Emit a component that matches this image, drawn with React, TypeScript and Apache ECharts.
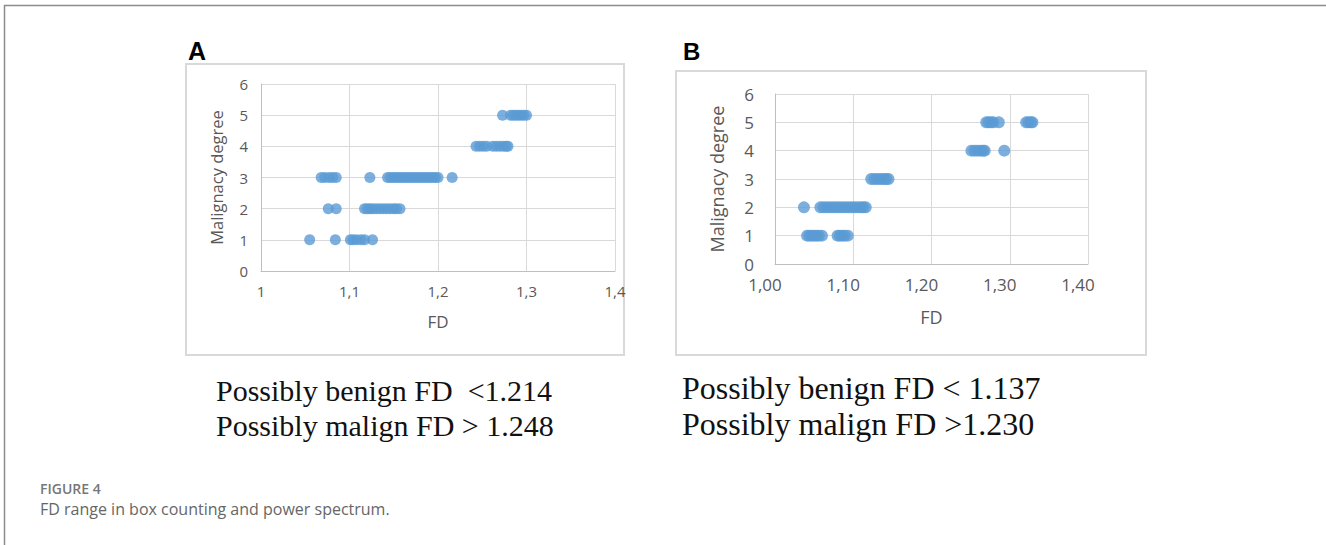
import React, { useEffect, useRef } from "react";
import * as echarts from "echarts";

// ---------- Data ----------
const degreesY = [0, 1, 2, 3, 4, 5, 6];
const xTicksA = ["1", "1,1", "1,2", "1,3", "1,4"];
const xTicksB = ["1,00", "1,10", "1,20", "1,30", "1,40"];

// Panel A (box counting)
const aDeg1 = [1.055, 1.084, 1.101, 1.104, 1.108, 1.113, 1.117, 1.126];
const aDeg2 = [1.076, 1.085, 1.117, 1.12, 1.123, 1.126, 1.13, 1.134, 1.138, 1.142, 1.146, 1.15, 1.153, 1.157];
const aDeg3 = [1.068, 1.072, 1.077, 1.081, 1.085, 1.123, 1.143, 1.146, 1.149, 1.152, 1.155, 1.158, 1.161, 1.164, 1.167, 1.17, 1.173, 1.176, 1.179, 1.182, 1.185, 1.188, 1.191, 1.194, 1.197, 1.2, 1.216];
const aDeg4 = [1.243, 1.247, 1.251, 1.255, 1.262, 1.266, 1.27, 1.274, 1.277, 1.279];
const aDeg5 = [1.273, 1.282, 1.285, 1.288, 1.291, 1.294, 1.297, 1.3];

// Panel B (power spectrum)
const bDeg1 = [1.041, 1.044, 1.047, 1.05, 1.053, 1.056, 1.06, 1.08, 1.083, 1.086, 1.089, 1.093];
const bDeg2 = [1.037, 1.058, 1.062, 1.066, 1.07, 1.074, 1.078, 1.082, 1.086, 1.09, 1.094, 1.098, 1.102, 1.106, 1.11, 1.113, 1.116];
const bDeg3 = [1.123, 1.127, 1.131, 1.135, 1.139, 1.142, 1.145];
const bDeg4 = [1.251, 1.255, 1.259, 1.263, 1.266, 1.268, 1.293];
const bDeg5 = [1.27, 1.273, 1.276, 1.279, 1.286, 1.321, 1.324, 1.327, 1.329];

const textA = ["Possibly benign FD  <1.214", "Possibly malign FD > 1.248"];
const textB = ["Possibly benign FD < 1.137", "Possibly malign FD >1.230"];
const captionTitle = "FIGURE 4";
const captionText = "FD range in box counting and power spectrum.";
const yTitle = "Malignacy degree";
const xTitle = "FD";

const toPairs = (groups: number[][]) =>
  groups.flatMap((arr, i) => arr.map((x) => [x, i + 1]));

const MARK = "#5B9BD5";
const GRID = "#d9d9d9";
const LABEL = "#595959";
const FONT = "'Open Sans', Lato, sans-serif";

export default function App() {
  const ref = useRef<HTMLDivElement>(null);
  useEffect(() => {
    if (!ref.current) return;
    const chart = echarts.init(ref.current, null, { renderer: "svg" });
    const xAxisBase = (grid: number, labels: string[], fs: number, nameFs: number, nameGap: number, pad: number[]) => ({
      type: "value",
      gridIndex: grid,
      min: 1,
      max: 1.4,
      interval: 0.1,
      name: xTitle,
      nameLocation: "middle",
      nameGap,
      nameTextStyle: { color: LABEL, fontSize: nameFs, fontFamily: FONT },
      axisLine: { show: true, lineStyle: { color: "#bfbfbf", width: 1 } },
      axisTick: { show: false },
      splitLine: { show: true, lineStyle: { color: GRID, width: 1 } },
      axisLabel: {
        color: LABEL,
        fontSize: fs,
        fontFamily: FONT,
        margin: 12,
        padding: pad,
        showMinLabel: true,
        showMaxLabel: true,
        formatter: (v: number) => labels[Math.round((v - 1) / 0.1)] ?? "",
      },
    });
    const yAxisBase = (grid: number, fs: number, nameGap: number, margin: number, nameFs: number) => ({
      type: "value",
      gridIndex: grid,
      min: 0,
      max: 6,
      interval: 1,
      name: yTitle,
      nameLocation: "middle",
      nameRotate: 90,
      nameGap,
      nameTextStyle: { color: LABEL, fontSize: nameFs, fontFamily: FONT },
      axisLine: { show: true, lineStyle: { color: "#bfbfbf", width: 1 } },
      axisTick: { show: false },
      splitLine: { show: true, lineStyle: { color: GRID, width: 1 } },
      axisLabel: {
        color: LABEL,
        fontSize: fs,
        fontFamily: FONT,
        margin,
        formatter: (v: number) => String(degreesY[Math.round(v)]),
      },
    });
    const serifText = (x: number, y: number, text: string, fs: number) => ({
      type: "text",
      x,
      y,
      style: {
        text,
        fill: "#111",
        font: `${fs}px 'Liberation Serif', 'Times New Roman', serif`,
        align: "left",
        verticalAlign: "middle",
      },
    });
    chart.setOption({
      animation: false,
      grid: [
        { left: 261, top: 84, width: 354, height: 187 },
        { left: 775, top: 94, width: 313, height: 170 },
      ],
      xAxis: [
        xAxisBase(0, xTicksA, 15, 17, 42, [0, 0, 0, 0]),
        xAxisBase(1, xTicksB, 17, 18, 44, [0, 20, 0, 0]),
      ],
      yAxis: [yAxisBase(0, 15, 36, 13, 16.5), yAxisBase(1, 17, 49, 21, 18)],
      series: [
        {
          type: "scatter",
          xAxisIndex: 0,
          yAxisIndex: 0,
          symbolSize: 11,
          itemStyle: { color: MARK },
          data: toPairs([aDeg1, aDeg2, aDeg3, aDeg4, aDeg5]),
        },
        {
          type: "scatter",
          xAxisIndex: 1,
          yAxisIndex: 1,
          symbolSize: 12,
          itemStyle: { color: MARK },
          data: toPairs([bDeg1, bDeg2, bDeg3, bDeg4, bDeg5]),
        },
      ],
      graphic: [
        { type: "line", shape: { x1: 4, y1: 5.5, x2: 1326, y2: 5.5 }, style: { stroke: "#8c8c8c", lineWidth: 1.5 } },
        { type: "line", shape: { x1: 4.5, y1: 5, x2: 4.5, y2: 545 }, style: { stroke: "#8c8c8c", lineWidth: 1.5 } },
        { type: "rect", shape: { x: 186, y: 64, width: 438, height: 291 }, style: { fill: "none", stroke: "#d9d9d9", lineWidth: 2 }, z: -1 },
        { type: "rect", shape: { x: 676, y: 71, width: 470, height: 284 }, style: { fill: "none", stroke: "#d9d9d9", lineWidth: 2 }, z: -1 },
        { type: "text", x: 188, y: 51, style: { text: "A", fill: "#000", font: "bold 25px 'Liberation Sans', Arial, sans-serif", verticalAlign: "middle" } },
        { type: "text", x: 683, y: 51, style: { text: "B", fill: "#000", font: "bold 24px 'Liberation Sans', Arial, sans-serif", verticalAlign: "middle" } },
        serifText(216, 390, textA[0], 30),
        serifText(216, 425, textA[1], 30),
        serifText(682, 388, textB[0], 32),
        serifText(682, 424, textB[1], 32),
        { type: "text", x: 40, y: 488, style: { text: captionTitle, fill: "#777", font: "600 14px 'Open Sans', sans-serif", verticalAlign: "middle" } },
        { type: "text", x: 40, y: 509, style: { text: captionText, fill: "#666", font: "16px 'Open Sans', sans-serif", verticalAlign: "middle" } },
      ],
    });
    return () => chart.dispose();
  }, []);
  return <div ref={ref} style={{ position: "absolute", left: 0, top: 0, width: 1326, height: 545 }} />;
}
